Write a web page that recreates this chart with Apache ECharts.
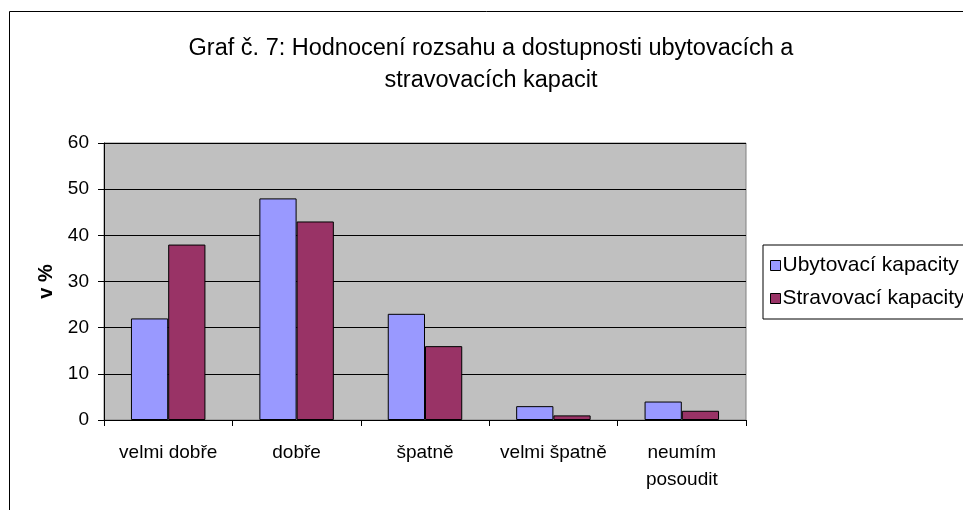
<!DOCTYPE html>
<html>
<head>
<meta charset="utf-8">
<script src="https://cdn.jsdelivr.net/npm/echarts@6/dist/echarts.min.js"></script>
<style>
html,body{margin:0;padding:0;background:#fff;}
#chart{width:963px;height:510px;}
</style>
</head>
<body>
<div id="chart"></div>
<script>
var categories = ['velmi dobře', 'dobře', 'špatně', 'velmi špatně', 'neumím\nposoudit'];
var ubytovaci = [22, 48, 23, 3, 4];
var stravovaci = [38, 43, 16, 1, 2];
var yTicks = [0, 60, 10];

var myChart = echarts.init(document.getElementById('chart'));
var option = {
    animation: false,
    textStyle: {fontFamily: 'Liberation Sans, Arial, sans-serif'},
    title: {
        text: 'Graf č. 7: Hodnocení rozsahu a dostupnosti ubytovacích a\nstravovacích kapacit',
        left: 486,
        textAlign: 'center',
        top: 28,
        textStyle: {fontSize: 23.5, fontWeight: 'normal', color: '#000', lineHeight: 32, fontFamily: 'Liberation Sans, Arial, sans-serif'}
    },
    graphic: [{
        type: 'rect',
        shape: {x: 9.5, y: 11.5, width: 1000, height: 600},
        style: {fill: 'none', stroke: '#000', lineWidth: 1},
        z: 100
    }],
    legend: {
        orient: 'vertical',
        left: 763,
        top: 245,
        backgroundColor: '#fff',
        borderColor: '#000',
        borderWidth: 1,
        padding: [10, 40, 10, 7],
        itemGap: 12,
        itemWidth: 10,
        itemHeight: 10,
        icon: 'rect',
        textStyle: {fontSize: 21, color: '#000', padding: [0, 0, 0, -3]},
        itemStyle: {borderColor: '#000', borderWidth: 1}
    },
    grid: {
        left: 104,
        right: 217,
        top: 143,
        bottom: 90,
        show: true,
        backgroundColor: '#C0C0C0',
        borderColor: '#808080',
        borderWidth: 1
    },
    xAxis: {
        type: 'category',
        data: categories,
        axisLine: {lineStyle: {color: '#000'}},
        axisTick: {show: true, length: 6, interval: 0, lineStyle: {color: '#000'}},
        axisLabel: {fontSize: 19, color: '#000', margin: 19, lineHeight: 27, interval: 0, hideOverlap: false}
    },
    yAxis: {
        type: 'value',
        min: yTicks[0],
        max: yTicks[1],
        interval: yTicks[2],
        name: 'v %',
        nameLocation: 'middle',
        nameGap: 48,
        nameTextStyle: {fontSize: 20, fontWeight: 'bold', color: '#000'},
        axisLine: {show: true, lineStyle: {color: '#000'}},
        axisTick: {show: true, length: 6, lineStyle: {color: '#000'}},
        axisLabel: {fontSize: 19, color: '#000', margin: 15},
        splitLine: {lineStyle: {color: '#000', width: 1}}
    },
    series: [
        {
            name: 'Ubytovací kapacity',
            type: 'bar',
            data: ubytovaci,
            barGap: '0%',
            barCategoryGap: '42%',
            itemStyle: {color: '#9999FF', borderColor: '#000', borderWidth: 1}
        },
        {
            name: 'Stravovací kapacity',
            type: 'bar',
            data: stravovaci,
            itemStyle: {color: '#993366', borderColor: '#000', borderWidth: 1}
        }
    ]
};
myChart.setOption(option);
</script>
</body>
</html>
